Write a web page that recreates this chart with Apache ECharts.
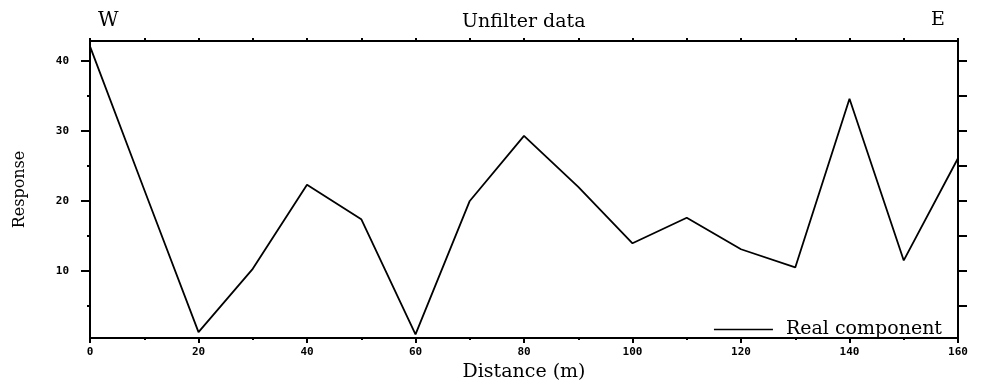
<!DOCTYPE html>
<html>
<head>
<meta charset="utf-8">
<script src="https://cdn.jsdelivr.net/npm/echarts@6/dist/echarts.min.js"></script>
<style>html,body{margin:0;padding:0;background:#fff}#c{width:989px;height:387px}</style>
</head>
<body>
<div id="c"></div>
<script>
// Data
const distance = [0, 10, 20, 30, 40, 50, 60, 70, 80, 90, 100, 110, 120, 130, 140, 150, 160];
const realComponent = [42.1, 21.6, 1.25, 10.3, 22.3, 17.4, 0.93, 20.0, 29.3, 22.0, 13.95, 17.6, 13.1, 10.5, 34.6, 11.5, 26.1];
const yLabelValues = [10, 20, 30, 40];
const yMinorValues = [5, 15, 25, 35];
const yRightTickValues = [5, 10, 15, 20, 25, 30, 35, 40];
const titleText = 'Unfilter data';
const leftLabel = 'W';
const rightLabel = 'E';

const serif = 'DejaVu Serif';
const tickFont = { fontFamily: 'DejaVu Sans Mono', fontWeight: 'bold', fontSize: 11, color: '#000' };
const yMin = 0.4, yMax = 42.86;
const grid = { left: 90, right: 31, top: 41, bottom: 45 };

const chart = echarts.init(document.getElementById('c'));
chart.setOption({
  animation: false,
  backgroundColor: '#fff',
  title: {
    text: titleText, left: 462, top: 13, padding: 0,
    textStyle: { fontFamily: serif, fontWeight: 'normal', fontSize: 19, color: '#000' }
  },
  graphic: [
    { type: 'text', left: 98, top: 11, style: { text: leftLabel, font: '20px "DejaVu Serif"', fill: '#000' } },
    { type: 'text', left: 931, top: 11, style: { text: rightLabel, font: '19px "DejaVu Serif"', fill: '#000' } }
  ],
  legend: {
    right: 42, top: 315, icon: 'rect', itemWidth: 59, itemHeight: 1.5, itemGap: 0,
    data: ['Real component'],
    textStyle: { fontFamily: serif, fontSize: 19, color: '#000', padding: [0, 0, 0, 8] },
    itemStyle: { color: '#000' }
  },
  grid: grid,
  xAxis: [
    {
      type: 'value', position: 'bottom', min: 0, max: 160, interval: 20,
      name: 'Distance (m)', nameLocation: 'middle', nameGap: 24,
      nameTextStyle: { fontFamily: serif, fontSize: 19, color: '#000' },
      axisLine: { show: true, onZero: false, lineStyle: { color: '#000', width: 2 } },
      axisTick: { show: true, inside: false, length: 5, lineStyle: { color: '#000', width: 2 } },
      axisLabel: Object.assign({ margin: 9 }, tickFont),
      splitLine: { show: false }
    },
    {
      type: 'value', position: 'bottom', min: 0, max: 160, interval: 10,
      axisLine: { show: false, onZero: false },
      axisTick: { show: true, length: 2, lineStyle: { color: '#000', width: 2 } },
      axisLabel: { show: false }, splitLine: { show: false }
    },
    {
      type: 'value', position: 'top', min: 0, max: 160, interval: 10,
      axisLine: { show: true, onZero: false, lineStyle: { color: '#000', width: 2 } },
      axisTick: { show: true, length: 3, lineStyle: { color: '#000', width: 2 } },
      axisLabel: { show: false }, splitLine: { show: false }
    }
  ],
  yAxis: [
    {
      type: 'value', position: 'left', min: yMin, max: yMax,
      name: 'Response', nameLocation: 'middle', nameGap: 62,
      nameTextStyle: { fontFamily: serif, fontSize: 16, color: '#000' },
      axisLine: { show: true, onZero: false, lineStyle: { color: '#000', width: 2 } },
      axisTick: { show: true, length: 9, customValues: yLabelValues, lineStyle: { color: '#000', width: 2 } },
      axisLabel: Object.assign({ margin: 21, customValues: yLabelValues }, tickFont),
      splitLine: { show: false }
    },
    {
      type: 'value', position: 'left', min: yMin, max: yMax,
      axisLine: { show: false, onZero: false },
      axisTick: { show: true, length: 3, customValues: yMinorValues, lineStyle: { color: '#000', width: 2 } },
      axisLabel: { show: false }, splitLine: { show: false }
    },
    {
      type: 'value', position: 'right', min: yMin, max: yMax,
      axisLine: { show: true, onZero: false, lineStyle: { color: '#000', width: 2 } },
      axisTick: { show: true, length: 9, customValues: yRightTickValues, lineStyle: { color: '#000', width: 2 } },
      axisLabel: { show: false }, splitLine: { show: false }
    }
  ],
  series: [{
    name: 'Real component', type: 'line', xAxisIndex: 0, yAxisIndex: 0,
    data: distance.map((d, i) => [d, realComponent[i]]),
    symbol: 'none', showSymbol: false,
    lineStyle: { color: '#000', width: 1.8 },
    itemStyle: { color: '#000' }
  }]
});
</script>
</body>
</html>
